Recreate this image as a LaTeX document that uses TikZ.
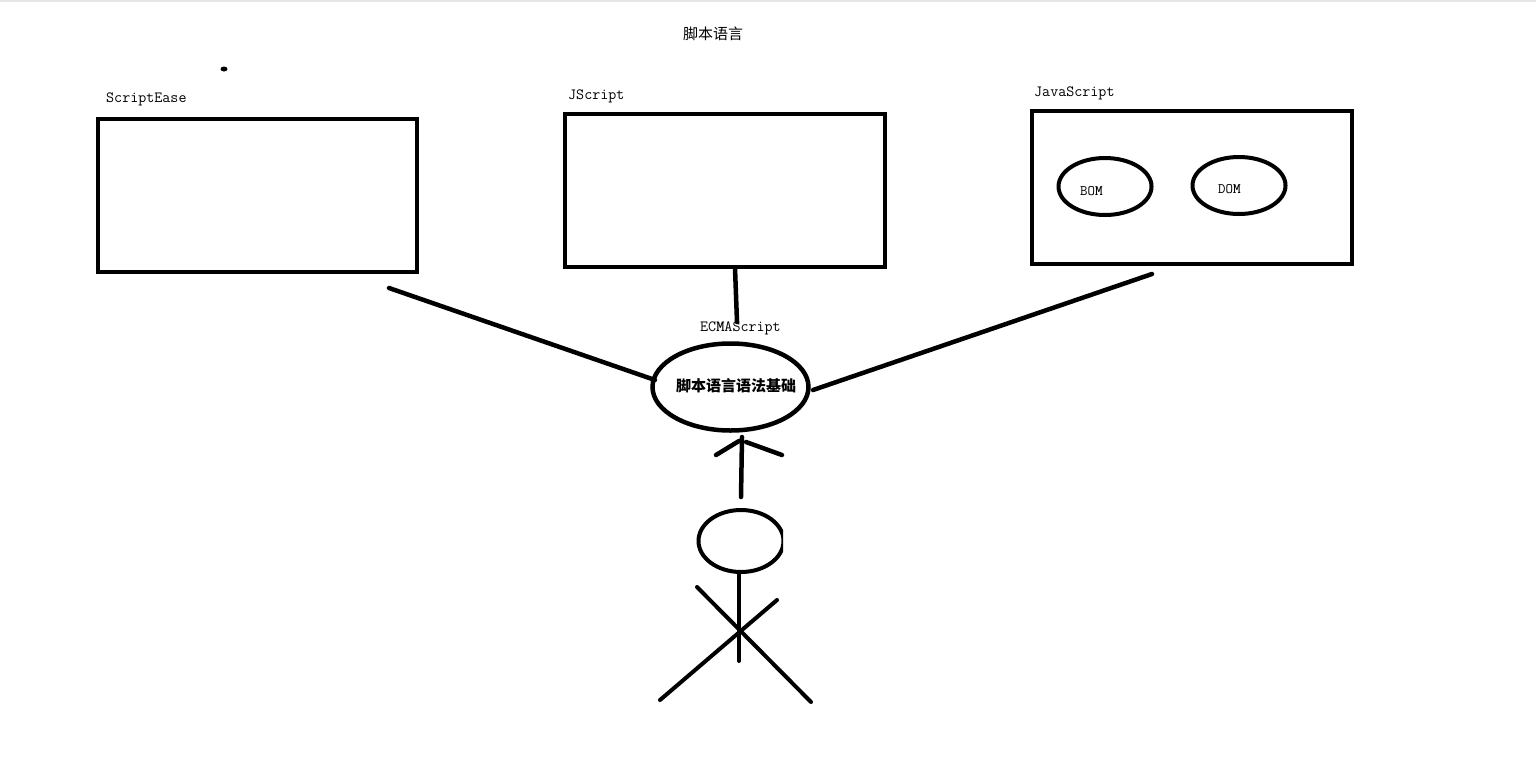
\documentclass[tikz,border=0pt]{standalone}
\usepackage{fontspec}
\newfontfamily\cjk{Noto Sans CJK SC}
\usetikzlibrary{shapes.geometric}
\tikzset{
  x=1pt,y=-1pt,
  inkline/.style={line width=4.5pt,line cap=round,black},
  thinink/.style={line width=4pt,line cap=round,black},
  boxrect/.style={draw=black,line width=4pt,rectangle,minimum width=320pt,minimum height=153pt,inner sep=0pt,fill=white,sharp corners},
  oval/.style={draw=black,ellipse,inner sep=0pt,fill=white},
  lab/.style={inner sep=0pt,anchor=west,font=\ttfamily\fontsize{15.6}{17}\selectfont},
  cjklab/.style={inner sep=0pt,font=\cjk\fontsize{15}{17}\selectfont},
}
\begin{document}
\begin{tikzpicture}
\useasboundingbox (0,0) rectangle (1536,764);
\fill[white] (0,0) rectangle (1536,764);
\fill[black!10] (0,0) rectangle (1536,1.5);

\node[cjklab] (title) at (713,34) {脚本语言};
\node[fill=black,ellipse,minimum width=7pt,minimum height=5pt,inner sep=0pt] (dot) at (224,69) {};

\node[lab] (l1) at (106,99) {ScriptEase};
\node[lab] (l2) at (568,96) {JScript};
\node[lab] (l3) at (1034,93) {JavaScript};
\node[lab] (l4) at (700,328) {EC\textbf{M}AScript};

\node[boxrect,minimum width=319pt] (scriptease) at (257.5,195) {};
\node[boxrect] (jscript) at (725,190.5) {};
\node[boxrect] (javascript) at (1192,187.5) {};

\node[oval,line width=4pt,minimum width=93pt,minimum height=57pt] (bom) at (1105,186.5) {};
\node[oval,line width=4pt,minimum width=93pt,minimum height=57pt] (dom) at (1239,185.5) {};
\node[lab,font=\ttfamily\fontsize{14.5}{16}\selectfont] at (1080,191) {BO\textbf{M}};
\node[lab,font=\ttfamily\fontsize{14.5}{16}\selectfont] at (1218,189) {DO\textbf{M}};

\node[oval,line width=4.5pt,minimum width=156pt,minimum height=87pt] (base) at (730.5,387) {};
\node[cjklab,font=\cjk\bfseries\fontsize{15}{17}\selectfont] (basetext) at (736,385.5) {脚本语言语法基础};

\coordinate (c1a) at (389,288);
\coordinate (c1b) at (655,380);
\draw[inkline] (c1a) -- (c1b);
\coordinate (c2a) at (735,268);
\coordinate (c2b) at (737,322);
\draw[inkline] (c2a) -- (c2b);
\coordinate (c3a) at (1152,274);
\coordinate (c3b) at (813,390);
\draw[inkline] (c3a) -- (c3b);

\coordinate (ar0) at (741,497);
\coordinate (ar1) at (742,437);
\coordinate (ar2) at (716,455);
\coordinate (ar3) at (739,441);
\coordinate (ar4) at (746,442);
\coordinate (ar5) at (782,455);
\draw[inkline] (ar0) -- (ar1);
\draw[inkline] (ar2) -- (ar3);
\draw[inkline] (ar4) -- (ar5);

\begin{scope}
\clip (690,500) rectangle (783,580);
\node[oval,line width=4pt,minimum width=85pt,minimum height=62pt] (head) at (741,541) {};
\end{scope}
\coordinate (hip) at (739,661);
\coordinate (a1) at (697,587);
\coordinate (a2) at (811,702);
\coordinate (b1) at (777,600);
\coordinate (b2) at (660,700);
\draw[thinink] (head.south -| hip) -- (hip);
\draw[thinink] (a1) -- (a2);
\draw[thinink] (b1) -- (b2);
\end{tikzpicture}
\end{document}
